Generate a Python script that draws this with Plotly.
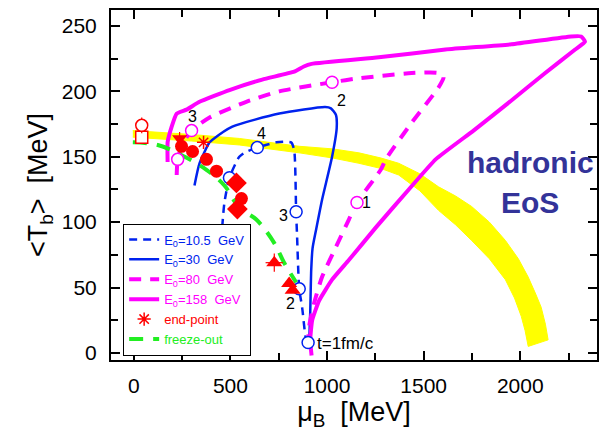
import plotly.graph_objects as go

# ---- trajectories in the (mu_B, <T_b>) plane, MeV ----
e158_mu = [920, 913, 923, 959, 1026, 1113, 1253, 1423, 1562, 1758, 1954, 2129, 2284, 2335, 2315, 2263,
           1954, 1613, 1268, 920, 880, 830, 665, 495, 340, 273, 222, 196, 175, 175]
e158_T = [-2, 10, 25, 40, 56, 71, 96, 125, 148, 170, 193, 214, 232, 238, 242, 242,
          236, 232, 226, 221, 219, 215, 209, 201, 192, 186, 183, 173, 161, 146]

e80_mu = [902, 907, 933, 974, 1046, 1113, 1155, 1278, 1304, 1438, 1577, 1603, 1577, 1438, 1165, 1026,
          753, 582, 392, 299, 253, 227, 222]
e80_T = [5, 20, 38, 58, 81, 102, 115, 140, 148, 176, 203, 211, 214, 214, 210, 207,
         200, 192, 180, 170, 160, 148, 136]

e30_mu = [907, 913, 918, 925, 943, 974, 1026, 1050, 1046, 1020, 990, 753, 510, 407, 392, 340, 314]
e30_T = [5, 31, 63, 80, 94, 117, 150, 172, 182, 187, 188, 183, 173, 163, 161, 145, 128]

e105_mu = [902, 892, 871, 856, 845, 840, 830, 814, 737, 639, 572, 546, 495, 469, 459, 456]
e105_T = [8, 10, 35, 49, 89, 108, 155, 161, 161, 157, 153, 150, 134, 115, 99, 92]

# time-step markers along the trajectories
c105_mu = [902, 856, 840, 639, 495]
c105_T = [8, 49, 108, 157, 134]
c80_mu = [1155, 1026, 299, 227]
c80_T = [115, 207, 170, 148]

# freeze-out line
fo_mu = [-5, 124, 263, 376, 469, 546, 634, 727, 778, 840]
fo_T = [161, 159, 150, 140, 128, 111, 102, 84, 69, 54]

# hadronic EoS band (upper and lower edges)
band_up_mu = [-5, 300, 546, 856, 1030, 1165, 1280, 1371, 1480, 1577, 1665, 1748, 1840, 1923,
              1990, 2041, 2080, 2108, 2130, 2144]
band_up_T = [170, 167, 164, 158, 156, 153, 149, 145, 137, 127, 120, 112, 100, 86,
             72, 58, 45, 35, 22, 10]
band_lo_mu = [-5, 300, 546, 856, 1030, 1165, 1280, 1371, 1480, 1577, 1665, 1748, 1840, 1923,
              1970, 2005, 2025, 2041]
band_lo_T = [165, 162, 159, 153, 149, 145, 141, 136, 124, 109, 98, 86, 72, 56,
             42, 28, 17, 5]

# freeze-out data points
circ_mu = [247, 304, 376, 428, 557]
circ_T = [158, 154, 148, 139, 118]
diam_mu = [531, 536]
diam_T = [130, 110]
diam_err = [7, 0]
tri_up_mu = [727, 804, 822]
tri_up_T = [69, 53, 48]
tri_up_errT = [7, 0, 0]
tri_up_errmu = [45, 0, 0]
tri_dn_mu = [237]
tri_dn_T = [164]
tri_dn_err = [5]
sq_mu = [41]
sq_T = [165]
sq_err = [5]
ocirc_mu = [41]
ocirc_T = [174]
ocirc_err = [6]
end_mu = [361]
end_T = [161]

# step labels
lab_text = ["1", "2", "3", "4", "3", "2"]
lab_mu = [1206, 1077, 304, 660, 773, 809]
lab_T = [115, 193, 181, 168, 105, 38]

BLUE = "#0022ee"
MAG = "#ff00ff"
RED = "#ff0000"
GREEN = "#22ee22"
YEL = "#ffff00"
FONT = "Liberation Sans, Arial"

fig = go.Figure()

# yellow EoS band
fig.add_trace(go.Scatter(
    x=band_up_mu + band_lo_mu[::-1], y=band_up_T + band_lo_T[::-1],
    mode="lines", fill="toself", fillcolor=YEL, line=dict(color=YEL, width=1),
    showlegend=False, hoverinfo="skip"))

fig.add_trace(go.Scatter(x=e105_mu, y=e105_T, mode="lines",
                         line=dict(color=BLUE, width=2.5, dash="8px,6px", shape="spline", smoothing=0.6),
                         name="<span style='color:#0022ee'>E<sub>0</sub>=10.5  GeV</span>"))
fig.add_trace(go.Scatter(x=e30_mu, y=e30_T, mode="lines",
                         line=dict(color=BLUE, width=2.5, shape="spline", smoothing=0.6),
                         name="<span style='color:#0022ee'>E<sub>0</sub>=30  GeV</span>"))
fig.add_trace(go.Scatter(x=e80_mu, y=e80_T, mode="lines",
                         line=dict(color=MAG, width=4, dash="12px,9px", shape="spline", smoothing=0.6),
                         name="<span style='color:#ff00ff'>E<sub>0</sub>=80  GeV</span>"))
fig.add_trace(go.Scatter(x=e158_mu, y=e158_T, mode="lines",
                         line=dict(color=MAG, width=4, shape="spline", smoothing=0.4),
                         name="<span style='color:#ff00ff'>E<sub>0</sub>=158  GeV</span>"))
fig.add_trace(go.Scatter(x=end_mu, y=end_T, mode="markers",
                         marker=dict(symbol="asterisk-open", size=11, color=RED, line=dict(color=RED, width=1.5)),
                         name="<span style='color:#ff0000'>end-point</span>"))
fig.add_trace(go.Scatter(x=fo_mu, y=fo_T, mode="lines",
                         line=dict(color=GREEN, width=4, dash="14px,10px", shape="spline"),
                         name="<span style='color:#22ee22'>freeze-out</span>"))

# open time-step circles
fig.add_trace(go.Scatter(x=c105_mu, y=c105_T, mode="markers", showlegend=False,
                         marker=dict(symbol="circle", size=12, color="white", line=dict(color=BLUE, width=1.5))))
fig.add_trace(go.Scatter(x=c80_mu, y=c80_T, mode="markers", showlegend=False,
                         marker=dict(symbol="circle", size=12, color="white", line=dict(color=MAG, width=1.5))))

# red data points
fig.add_trace(go.Scatter(x=sq_mu, y=sq_T, mode="markers", showlegend=False,
                         error_y=dict(type="data", array=sq_err, color=RED, thickness=1.2, width=0),
                         marker=dict(symbol="square", size=12, color="white", line=dict(color=RED, width=1.5))))
fig.add_trace(go.Scatter(x=ocirc_mu, y=ocirc_T, mode="markers", showlegend=False,
                         error_y=dict(type="data", array=ocirc_err, color=RED, thickness=1.2, width=0),
                         marker=dict(symbol="circle", size=12, color="white", line=dict(color=RED, width=1.5))))
fig.add_trace(go.Scatter(x=tri_dn_mu, y=tri_dn_T, mode="markers", showlegend=False,
                         error_y=dict(type="data", array=tri_dn_err, color=RED, thickness=1.2, width=0),
                         marker=dict(symbol="triangle-down", size=13, color=RED)))
fig.add_trace(go.Scatter(x=circ_mu, y=circ_T, mode="markers", showlegend=False,
                         marker=dict(symbol="circle", size=13, color=RED)))
fig.add_trace(go.Scatter(x=diam_mu, y=diam_T, mode="markers", showlegend=False,
                         error_y=dict(type="data", array=diam_err, color=RED, thickness=1.2, width=0),
                         marker=dict(symbol="diamond", size=16, color=RED)))
fig.add_trace(go.Scatter(x=tri_up_mu, y=tri_up_T, mode="markers", showlegend=False,
                         error_y=dict(type="data", array=tri_up_errT, color=RED, thickness=1.2, width=0),
                         error_x=dict(type="data", array=tri_up_errmu, color=RED, thickness=1.2, width=0),
                         marker=dict(symbol="triangle-up", size=14, color=RED)))

# step labels
for t, xm, yt in zip(lab_text, lab_mu, lab_T):
    fig.add_annotation(x=xm, y=yt, text=t, showarrow=False,
                       font=dict(size=16, color="black", family=FONT))
fig.add_annotation(x=940, y=7, text="t=1fm/c", showarrow=False, xanchor="left",
                   font=dict(size=17, color="black", family=FONT))
fig.add_annotation(x=0.863, y=0.563, xref="paper", yref="paper", text="<b>hadronic</b>",
                   xanchor="center", yanchor="middle",
                   showarrow=False, font=dict(size=30, color="#333399", family=FONT))
fig.add_annotation(x=0.863, y=0.451, xref="paper", yref="paper", text="<b>EoS</b>",
                   xanchor="center", yanchor="middle",
                   showarrow=False, font=dict(size=30, color="#333399", family=FONT))

axis_common = dict(showgrid=False, zeroline=False, showline=True, linecolor="black", linewidth=2,
                   mirror="ticks", ticks="inside", tickcolor="black", tickwidth=2, ticklen=9,
                   tickfont=dict(size=21, color="black", family=FONT),
                   minor=dict(ticks="inside", ticklen=7, tickwidth=2, tickcolor="black"))

fig.update_xaxes(range=[-118, 2397], tickvals=[0, 500, 1000, 1500, 2000],
                 minor_dtick=250, minor_tick0=0, ticklabelstandoff=6,
                 title=dict(text="μ<sub>B</sub>  [MeV]", font=dict(size=27, family=FONT, color="black"),
                            standoff=4),
                 **axis_common)
fig.update_yaxes(range=[-5.4, 262.2], tickvals=[0, 50, 100, 150, 200, 250],
                 minor_dtick=25, minor_tick0=0, ticklabelstandoff=8,
                 title=dict(text="&lt;T<sub>b</sub>&gt;  [MeV]", font=dict(size=27, family=FONT, color="black"),
                            standoff=6),
                 **axis_common)

fig.update_layout(
    width=604, height=441,
    margin=dict(l=111, r=5, t=10, b=81),
    plot_bgcolor="white", paper_bgcolor="white",
    legend=dict(x=0.025, y=0.39, xanchor="left", yanchor="top",
                bordercolor="black", borderwidth=1, bgcolor="white",
                font=dict(size=13, family=FONT),
                itemwidth=30, tracegroupgap=0),
)

fig.write_html("out.html")
